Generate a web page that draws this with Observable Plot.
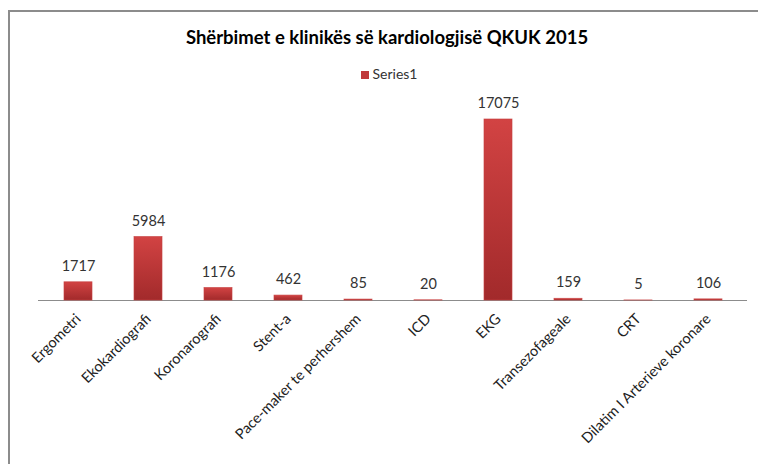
<!DOCTYPE html>
<html><head><meta charset="utf-8">
<script src="https://cdn.jsdelivr.net/npm/d3@7"></script>
<script src="https://cdn.jsdelivr.net/npm/@observablehq/plot@0.6"></script>
<style>
html,body{margin:0;padding:0;background:#fff;overflow:hidden;}
#wrap{position:relative;width:758px;height:464px;font-family:Lato,"Open Sans",sans-serif;}
#frame{position:absolute;left:8px;top:10px;width:800px;height:500px;border:2px solid #8c8c8c;box-sizing:border-box;}
#title{position:absolute;left:0;top:26px;width:774px;text-align:center;font-weight:bold;font-size:18.5px;color:#000;}
#legend{position:absolute;left:0;top:65px;width:778px;text-align:center;font-size:14px;color:#333;}
#legend span.sw{display:inline-block;width:8px;height:8px;background:#c0393a;margin-right:4px;vertical-align:0px;}
#chart{position:absolute;left:0;top:80px;}
</style></head>
<body>
<div id="wrap">
<div id="frame"></div>
<div id="title">Shërbimet e klinikës së kardiologjisë QKUK 2015</div>
<div id="legend"><span class="sw"></span>Series1</div>
<div id="chart"></div>
</div>
<script>
const categories = ["Ergometri","Ekokardiografi","Koronarografi","Stent-a","Pace-maker te perhershem","ICD","EKG","Transezofageale","CRT","Dilatim I Arterieve koronare"];
const values = [1717,5984,1176,462,85,20,17075,159,5,106];
const data = categories.map((c,i)=>({cat:c, v:values[i]}));

const chart = Plot.plot({
  width:758, height:384,
  marginTop:8, marginBottom:164, marginLeft:38, marginRight:11,
  style:{fontFamily:"Lato, 'Open Sans', sans-serif", fontSize:"14.5px", color:"#222", background:"transparent", overflow:"visible"},
  x:{domain:categories, paddingInner:0.6, paddingOuter:0.3, tickRotate:-45, tickSize:0, tickPadding:16, label:null},
  y:{domain:[0,20000], axis:null},
  marks:[
    Plot.ruleY([0],{stroke:"#8c8c8c", strokeWidth:1.2}),
    Plot.barY(data,{x:"cat", y:"v", fill:"url(#bargrad)", stroke:"#c74040", strokeWidth:0.8, strokeOpacity:0.8}),
    Plot.text(data,{x:"cat", y:"v", text:d=>String(d.v), dy:-16, fontSize:14.5, fill:"#333"})
  ]
});
const svg = d3.select(chart);
const defs = svg.insert("defs",":first-child");
const g = defs.append("linearGradient").attr("id","bargrad").attr("x1",0).attr("y1",0).attr("x2",0).attr("y2",1);
g.append("stop").attr("offset","0%").attr("stop-color","#d24343");
g.append("stop").attr("offset","100%").attr("stop-color","#a22a2b");
document.getElementById("chart").appendChild(chart);
</script>
</body></html>
